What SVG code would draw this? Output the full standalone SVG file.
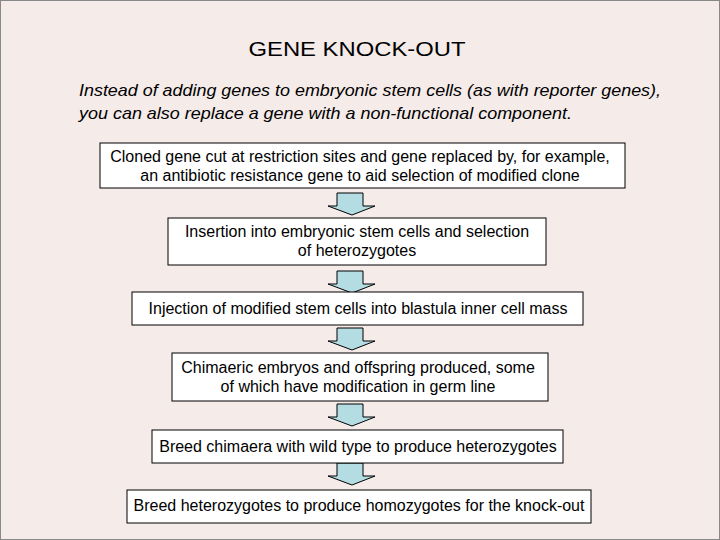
<svg xmlns="http://www.w3.org/2000/svg" width="720" height="540" viewBox="0 0 720 540">
<style>
.b{fill:#fff;stroke:#000;stroke-width:1}
.t{font-family:"Liberation Sans",Arial,sans-serif;font-size:16px;text-anchor:middle;fill:#000}
.a{fill:#b3dde3;stroke:#000;stroke-width:1}
</style>
<defs><polygon id="ar" class="a" points="-13,0 13,0 13,13 25,13 2,22 -22,13 -13,13"/></defs>
<rect x="0.5" y="0.5" width="719" height="539" fill="#f5ebe9" stroke="#888"/>
<text x="357" y="56" textLength="217" lengthAdjust="spacingAndGlyphs" style="font-family:'Liberation Sans',Arial,sans-serif;font-size:20px;text-anchor:middle">GENE KNOCK-OUT</text>
<text style="font-family:'Liberation Sans',Arial,sans-serif;font-size:17px;font-style:italic"><tspan x="79" y="96" textLength="582" lengthAdjust="spacingAndGlyphs">Instead of adding genes to embryonic stem cells (as with reporter genes),</tspan><tspan x="79" y="119" textLength="493" lengthAdjust="spacingAndGlyphs">you can also replace a gene with a non-functional component.</tspan></text>
<g id="connectors">
<use href="#ar" x="350" y="193"/>
<use href="#ar" x="350" y="271"/>
<use href="#ar" x="350" y="328"/>
<use href="#ar" x="350" y="404"/>
<use href="#ar" x="350" y="463"/>
</g>
<g id="n1"><rect class="b" x="100" y="143" width="525" height="45"/><text class="t" x="360" y="162">Cloned gene cut at restriction sites and gene replaced by, for example,</text><text class="t" x="360" y="181">an antibiotic resistance gene to aid selection of modified clone</text></g>
<g id="n2"><rect class="b" x="168" y="218" width="378" height="47"/><text class="t" x="357" y="237">Insertion into embryonic stem cells and selection</text><text class="t" x="357" y="256">of heterozygotes</text></g>
<g id="n3"><rect class="b" x="132" y="292" width="451" height="33"/><text class="t" x="358" y="314">Injection of modified stem cells into blastula inner cell mass</text></g>
<g id="n4"><rect class="b" x="172" y="353" width="376" height="48"/><text class="t" x="358" y="373">Chimaeric embryos and offspring produced, some</text><text class="t" x="358" y="392">of which have modification in germ line</text></g>
<g id="n5"><rect class="b" x="152" y="430" width="411" height="33"/><text class="t" x="358" y="452">Breed chimaera with wild type to produce heterozygotes</text></g>
<g id="n6"><rect class="b" x="127" y="490" width="464" height="33"/><text class="t" x="359" y="511">Breed heterozygotes to produce homozygotes for the knock-out</text></g>
</svg>
